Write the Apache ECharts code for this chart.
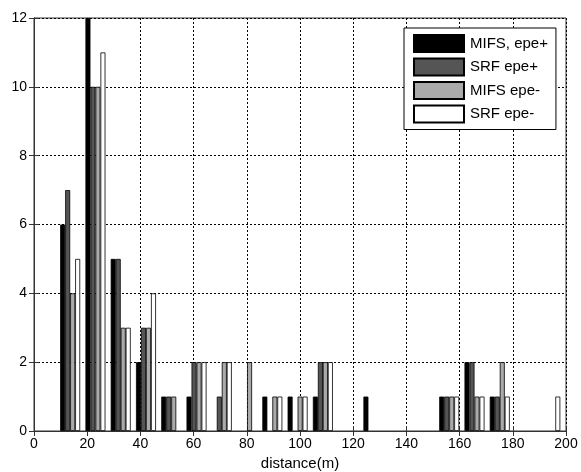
<!DOCTYPE html>
<html>
<head>
<meta charset="utf-8">
<script src="https://cdn.jsdelivr.net/npm/echarts@6/dist/echarts.min.js"></script>
<style>
  html, body { margin: 0; padding: 0; background: #fff; }
  #chart { width: 581px; height: 472px; }
</style>
</head>
<body>
<div id="chart"></div>
<script>
// bin centres (m)
const binCenters = [13.6, 23.1, 32.6, 42.1, 51.6, 61.1, 70.6, 80.1, 89.6, 99.1,
                    108.6, 118.1, 127.6, 137.1, 146.6, 156.1, 165.6, 175.1, 184.6, 194.1];

const mifsPlus  = [6, 12, 5, 2, 1, 1, 0, 0, 1, 1, 1, 0, 1, 0, 0, 1, 2, 1, 0, 0];
const srfPlus   = [7, 10, 5, 3, 1, 2, 1, 0, 0, 0, 2, 0, 0, 0, 0, 1, 2, 1, 0, 0];
const mifsMinus = [4, 10, 3, 3, 1, 2, 2, 2, 1, 1, 2, 0, 0, 0, 0, 1, 1, 2, 0, 0];
const srfMinus  = [5, 11, 3, 4, 0, 2, 2, 0, 1, 1, 2, 0, 0, 0, 0, 1, 1, 1, 0, 1];

const seriesNames = ['MIFS, epe+', 'SRF epe+', 'MIFS epe-', 'SRF epe-'];
const seriesColors = ['#000000', '#555555', '#aaaaaa', '#ffffff'];
const xTicks = { min: 0, max: 200, step: 20 };
const yTicks = { min: 0, max: 12, step: 2 };

const font = 'Liberation Sans, Arial, sans-serif';

const toPairs = (vals) => binCenters.map((c, i) => [c, vals[i]]).filter(d => d[1] > 0);

const makeBar = (name, vals, color) => ({
  name: name,
  type: 'bar',
  data: toPairs(vals),
  barWidth: 5,
  barGap: '0%',
  itemStyle: { color: color, borderColor: '#000', borderWidth: 0.8 },
  emphasis: { disabled: true }
});

const chart = echarts.init(document.getElementById('chart'));

const tickStyle = { inside: true, length: 5, lineStyle: { color: '#333' } };

chart.setOption({
  animation: false,
  backgroundColor: '#fff',
  grid: {
    left: 34, right: 15, top: 18, bottom: 41,
    outerBoundsMode: 'none',
    show: true, borderColor: '#333', borderWidth: 1, backgroundColor: '#fff'
  },
  legend: {
    orient: 'vertical',
    left: 404, top: 28,
    padding: [6, 8, 6, 9],
    itemWidth: 50, itemHeight: 17,
    itemGap: 4.5,
    icon: 'rect',
    backgroundColor: '#fff',
    borderColor: '#000', borderWidth: 1,
    textStyle: { fontFamily: font, fontSize: 15, color: '#000', padding: [0, 0, 0, 1] },
    data: seriesNames
  },
  xAxis: [{
    type: 'value',
    min: xTicks.min, max: xTicks.max, interval: xTicks.step,
    name: 'distance(m)',
    nameLocation: 'middle',
    nameGap: 25,
    nameTextStyle: { fontFamily: font, fontSize: 15, color: '#000' },
    axisLine: { show: true, onZero: false, lineStyle: { color: '#333' } },
    axisTick: tickStyle,
    axisLabel: { fontFamily: font, fontSize: 14, color: '#000', margin: 6 },
    splitLine: { show: true, lineStyle: { color: '#000', type: [2, 2], width: 1 } }
  }, {
    type: 'value', position: 'top',
    min: xTicks.min, max: xTicks.max, interval: xTicks.step,
    axisLine: { show: true, lineStyle: { color: '#333' } },
    axisTick: tickStyle,
    axisLabel: { show: false },
    splitLine: { show: false }
  }],
  yAxis: [{
    type: 'value',
    min: yTicks.min, max: yTicks.max, interval: yTicks.step,
    axisLine: { show: true, lineStyle: { color: '#333' } },
    axisTick: tickStyle,
    axisLabel: { fontFamily: font, fontSize: 14, color: '#000', margin: 7 },
    splitLine: { show: true, lineStyle: { color: '#000', type: [2, 2], width: 1 } }
  }, {
    type: 'value', position: 'right',
    min: yTicks.min, max: yTicks.max, interval: yTicks.step,
    axisLine: { show: true, lineStyle: { color: '#333' } },
    axisTick: tickStyle,
    axisLabel: { show: false },
    splitLine: { show: false }
  }],
  series: [
    makeBar(seriesNames[0], mifsPlus, seriesColors[0]),
    makeBar(seriesNames[1], srfPlus, seriesColors[1]),
    makeBar(seriesNames[2], mifsMinus, seriesColors[2]),
    makeBar(seriesNames[3], srfMinus, seriesColors[3])
  ]
});
</script>
</body>
</html>
